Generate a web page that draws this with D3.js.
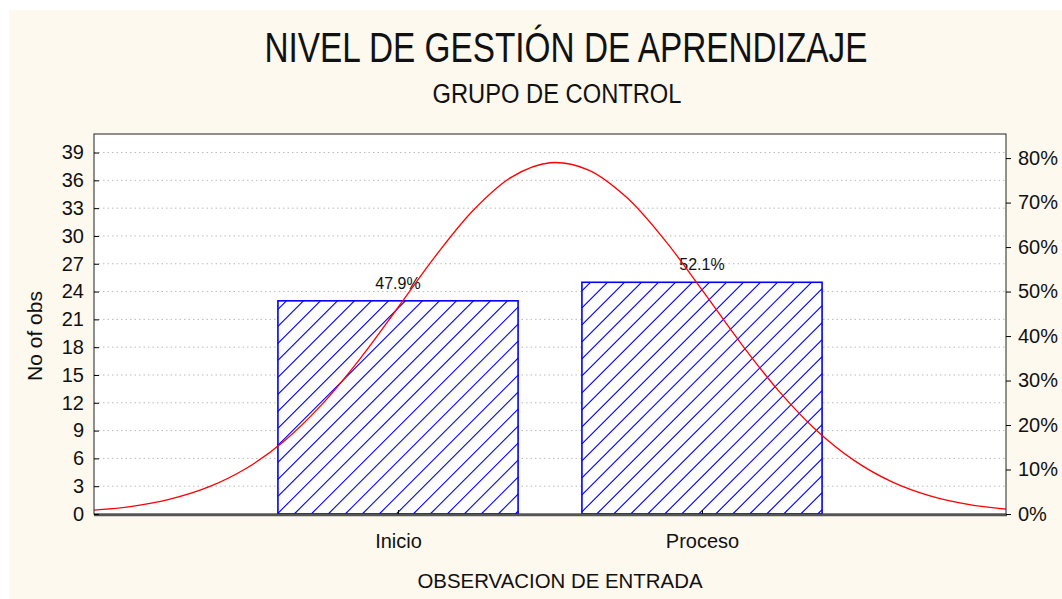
<!DOCTYPE html>
<html>
<head>
<meta charset="utf-8">
<script src="https://cdn.jsdelivr.net/npm/d3@7"></script>
<style>
  body { margin: 0; background: #fff; }
  text { font-family: "Liberation Sans Narrow", "Liberation Sans", Arial, sans-serif; fill: #111; }
</style>
</head>
<body>
<div id="chart"></div>
<script>
// datos del grafico
var categories = ["Inicio", "Proceso"];
var catPos = [1, 2];
var counts = [23, 25];
var pctLabels = ["47.9%", "52.1%"];
var leftTicks = [0, 3, 6, 9, 12, 15, 18, 21, 24, 27, 30, 33, 36, 39];
var rightTicks = [0, 10, 20, 30, 40, 50, 60, 70, 80];
// curva normal (x en unidades de categoria, y en No of obs)
var curveX = [0, 0.125, 0.25, 0.375, 0.5, 0.625, 0.75, 0.875, 1, 1.125, 1.25, 1.375, 1.5, 1.625, 1.75, 1.875, 2, 2.125, 2.25, 2.375, 2.5, 2.625, 2.75, 2.875, 3];
var curveY = [0.41, 0.83, 1.6, 2.89, 4.91, 7.86, 11.83, 16.74, 22.28, 27.9, 32.85, 36.38, 37.9, 37.13, 34.22, 29.66, 24.18, 18.54, 13.37, 9.07, 5.79, 3.47, 1.96, 1.04, 0.52];

var chart = {};
chart.w = 1062;
chart.h = 599;
chart.plot = {left: 94, right: 1006, top: 134, bottom: 514};
chart.total = d3.sum(counts);
chart.hatchStep = 17;

// segmentos "/" dentro de un rectangulo
chart.hatchLines = function (x0, y0, x1, y1, step) {
    var segs = [];
    for (var c = x0 + y0 + step / 2; c < x1 + y1; c += step) {
        var xa = Math.max(x0, c - y1);
        var xb = Math.min(x1, c - y0);
        if (xb > xa) segs.push([xa, c - xa, xb, c - xb]);
    }
    return segs;
};

chart.run = function () {
    var p = chart.plot;
    var svg = d3.select("#chart").append("svg")
        .attr("width", chart.w)
        .attr("height", chart.h);

    // fondo crema
    svg.append("rect")
        .attr("x", 9).attr("y", 10)
        .attr("width", chart.w - 9).attr("height", chart.h - 10)
        .attr("fill", "#fdf9ef");

    var x = d3.scaleLinear().domain([0, 3]).range([p.left, p.right]);
    var y = d3.scaleLinear().domain([0, 41]).range([p.bottom, p.top]);
    var yPct = d3.scaleLinear().domain([0, 41 / chart.total * 100]).range([p.bottom, p.top]);

    // area del grafico
    svg.append("rect")
        .attr("x", p.left).attr("y", p.top)
        .attr("width", p.right - p.left).attr("height", p.bottom - p.top)
        .attr("fill", "#fff");

    // lineas de cuadricula punteadas
    svg.append("g").selectAll("line")
        .data(leftTicks.filter(function (d) { return d > 0; }))
        .enter().append("line")
        .attr("x1", p.left).attr("x2", p.right)
        .attr("y1", function (d) { return y(d); })
        .attr("y2", function (d) { return y(d); })
        .attr("stroke", "#bbb")
        .attr("stroke-width", 1)
        .attr("stroke-dasharray", "1.5,3");

    // barras
    var bw = x(0.79) - x(0);
    var bars = svg.append("g").selectAll("g")
        .data(counts)
        .enter().append("g");
    bars.append("rect")
        .attr("x", function (d, i) { return x(catPos[i] - 0.395); })
        .attr("width", bw)
        .attr("y", function (d) { return y(d); })
        .attr("height", function (d) { return y(0) - y(d); })
        .attr("fill", "#fff");
    bars.each(function (d, i) {
        var bx = x(catPos[i] - 0.395);
        var segs = chart.hatchLines(bx, y(d), bx + bw, y(0), chart.hatchStep);
        d3.select(this).selectAll("line")
            .data(segs)
            .enter().append("line")
            .attr("x1", function (s) { return s[0]; })
            .attr("y1", function (s) { return s[1]; })
            .attr("x2", function (s) { return s[2]; })
            .attr("y2", function (s) { return s[3]; })
            .attr("stroke", "#0000ff")
            .attr("stroke-width", 1.1);
    });
    bars.append("rect")
        .attr("x", function (d, i) { return x(catPos[i] - 0.395); })
        .attr("width", bw)
        .attr("y", function (d) { return y(d); })
        .attr("height", function (d) { return y(0) - y(d); })
        .attr("fill", "none")
        .attr("stroke", "#0000ff")
        .attr("stroke-width", 1.6);

    // etiquetas de porcentaje
    svg.append("g").selectAll("text")
        .data(counts)
        .enter().append("text")
        .attr("x", function (d, i) { return x(catPos[i]); })
        .attr("y", function (d) { return y(d) - 12; })
        .attr("text-anchor", "middle")
        .attr("font-size", "16px")
        .text(function (d, i) { return pctLabels[i]; });

    // curva normal
    var pts = curveX.map(function (v, i) { return [v, curveY[i]]; });
    var line = d3.line()
        .x(function (d) { return x(d[0]); })
        .y(function (d) { return y(d[1]); })
        .curve(d3.curveCatmullRom);
    svg.append("path")
        .datum(pts)
        .attr("d", line)
        .attr("fill", "none")
        .attr("stroke", "#ff0000")
        .attr("stroke-width", 1.3);

    // marco
    svg.append("rect")
        .attr("x", p.left).attr("y", p.top)
        .attr("width", p.right - p.left).attr("height", p.bottom - p.top)
        .attr("fill", "none")
        .attr("stroke", "#222")
        .attr("stroke-width", 1);
    svg.append("line")
        .attr("x1", p.left).attr("x2", p.right + 1)
        .attr("y1", p.bottom + 1).attr("y2", p.bottom + 1)
        .attr("stroke", "#555").attr("stroke-width", 2.5);

    // eje izquierdo
    var yAxis = d3.axisLeft(y).tickValues(leftTicks).tickSizeInner(-5).tickSizeOuter(0).tickPadding(10);
    var gy = svg.append("g")
        .attr("transform", "translate(" + p.left + ",0)")
        .call(yAxis);
    gy.select(".domain").remove();
    gy.selectAll("text").attr("font-size", "20px").attr("fill", "#111");

    // eje derecho (porcentaje)
    var rAxis = d3.axisRight(yPct).tickValues(rightTicks)
        .tickFormat(function (d) { return d + "%"; })
        .tickSizeInner(5).tickSizeOuter(0).tickPadding(7);
    var gr = svg.append("g")
        .attr("transform", "translate(" + p.right + ",0)")
        .call(rAxis);
    gr.select(".domain").remove();
    gr.selectAll("text").attr("font-size", "20px").attr("fill", "#111");

    // eje inferior
    var xAxis = d3.axisBottom(x).tickValues(catPos)
        .tickFormat(function (d, i) { return categories[i]; })
        .tickSizeInner(-4).tickSizeOuter(0).tickPadding(20);
    var gx = svg.append("g")
        .attr("transform", "translate(0," + p.bottom + ")")
        .call(xAxis);
    gx.select(".domain").remove();
    gx.selectAll("text").attr("font-size", "20px").attr("fill", "#111");

    // titulos
    svg.append("text")
        .attr("x", 566).attr("y", 62)
        .attr("text-anchor", "middle")
        .attr("font-size", "42px")
        .attr("textLength", 603).attr("lengthAdjust", "spacingAndGlyphs")
        .text("NIVEL DE GESTIÓN DE APRENDIZAJE");
    svg.append("text")
        .attr("x", 557).attr("y", 103)
        .attr("text-anchor", "middle")
        .attr("font-size", "27px")
        .attr("textLength", 249).attr("lengthAdjust", "spacingAndGlyphs")
        .text("GRUPO DE CONTROL");
    svg.append("text")
        .attr("x", 560).attr("y", 588)
        .attr("text-anchor", "middle")
        .attr("font-size", "21px")
        .attr("textLength", 285).attr("lengthAdjust", "spacingAndGlyphs")
        .text("OBSERVACION DE ENTRADA");
    svg.append("text")
        .attr("transform", "translate(42,336) rotate(-90)")
        .attr("text-anchor", "middle")
        .attr("font-size", "21px")
        .text("No of obs");
};

window.onload = chart.run;
</script>
</body>
</html>
